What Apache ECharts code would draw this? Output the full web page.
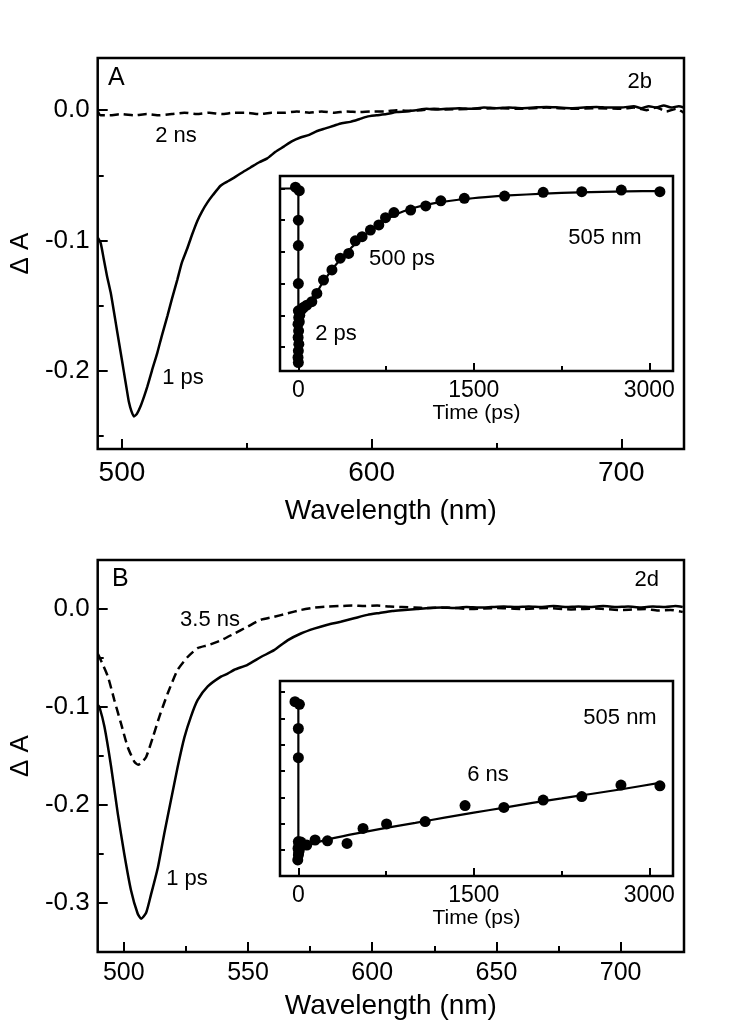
<!DOCTYPE html>
<html>
<head>
<meta charset="utf-8">
<script src="https://cdn.jsdelivr.net/npm/echarts@6/dist/echarts.min.js"></script>
<style>
html,body{margin:0;padding:0;background:#fff;}
#chart{width:742px;height:1033px;}
</style>
</head>
<body>
<div id="chart"></div>
<script>
// ---------- DATA ----------
// Panel A (2b) : transient spectra, wavelength (nm) vs dA
const specA_1ps = [[490.4,-0.098],[491.5,-0.102],[492.8,-0.115],[494,-0.127],[495.5,-0.140],[497,-0.157],[498.2,-0.171],[499.5,-0.186],[500.8,-0.201],[502,-0.215],[502.8,-0.224],[503.8,-0.231],[504.8,-0.235],[506,-0.233],[507.5,-0.227],[509,-0.219],[510.2,-0.212],[512,-0.200],[514.2,-0.186],[516,-0.173],[518.2,-0.158],[520,-0.145],[522.2,-0.130],[524,-0.117],[526.2,-0.106],[528,-0.096],[530.2,-0.085],[532,-0.078],[534.2,-0.071],[536.5,-0.065],[539.5,-0.058],[542,-0.055],[544.8,-0.052],[548,-0.048],[551.5,-0.044],[555,-0.040],[558.2,-0.037],[561.5,-0.032],[564.8,-0.028],[568,-0.024],[571.5,-0.021],[575,-0.019],[578.2,-0.016],[581.5,-0.014],[584.8,-0.012],[588,-0.010],[591.5,-0.009],[595,-0.007],[598.2,-0.005],[602,-0.004],[606,-0.003],[610,-0.0015],[614,-0.001],[618,0.000],[622,0.001],[626,0.0005],[630,0.001],[635,0.0015],[640,0.001],[645,0.002],[650,0.0015],[655,0.002],[660,0.0015],[665,0.002],[670,0.0025],[675,0.002],[680,0.0015],[685,0.002],[690,0.0025],[695,0.002],[700,0.002],[705,0.003],[708,0.0015],[711,0.003],[714,0.002],[717,0.0035],[720,0.002],[723,0.003],[725,0.002]];
const specA_2ns = [[490.4,-0.001],[491.5,-0.004],[495,-0.004],[500,-0.003],[505,-0.004],[510,-0.003],[515,-0.004],[520,-0.003],[525,-0.002],[530,-0.003],[535,-0.002],[540,-0.003],[545,-0.002],[550,-0.002],[555,-0.003],[560,-0.002],[565,-0.002],[570,-0.001],[575,-0.002],[580,-0.001],[585,-0.002],[590,-0.001],[595,-0.0015],[600,-0.001],[605,-0.001],[610,0.000],[615,-0.0005],[620,0.000],[625,0.001],[630,0.0005],[640,0.001],[650,0.0015],[660,0.001],[670,0.002],[680,0.001],[690,0.0015],[700,0.001],[705,0.002],[710,0.000],[714,0.002],[718,-0.001],[722,0.001],[725,-0.002]];
// Panel A inset : kinetics at 505 nm (time in ps, signal in tick units)
const kinA_pts = [[-25,5.04],[8,4.93],[0,4.0],[0,3.2],[0,2.0],[0,1.14],[3,0.93],[-3,0.72],[2,0.51],[-2,0.30],[4,0.09],[0,-0.12],[-3,-0.33],[0,-0.49],[8,0.8],[12,1.0],[20,1.15],[35,1.22],[45,1.25],[72,1.32],[115,1.43],[158,1.69],[215,2.11],[287,2.43],[358,2.80],[430,2.95],[487,3.35],[545,3.48],[616,3.69],[688,3.85],[745,4.08],[817,4.24],[960,4.32],[1089,4.45],[1218,4.61],[1419,4.69],[1763,4.76],[2093,4.88],[2423,4.90],[2761,4.95],[3091,4.90]];
const kinA_fit = [[-157,5.0],[0,5.0],[0,-0.45],[5,1.0],[40,1.2],[80,1.38],[120,1.55],[160,1.75],[200,1.98],[250,2.25],[300,2.5],[350,2.72],[400,2.92],[450,3.12],[500,3.3],[550,3.47],[600,3.62],[650,3.76],[700,3.9],[750,4.02],[800,4.12],[900,4.28],[1000,4.4],[1100,4.49],[1200,4.56],[1400,4.66],[1600,4.73],[1800,4.78],[2100,4.84],[2400,4.88],[2800,4.91],[3100,4.92]];

// Panel B (2d)
const specB_1ps = [[489.6,-0.098],[490.2,-0.100],[492.2,-0.120],[494.9,-0.161],[497.6,-0.209],[500.2,-0.250],[502.9,-0.287],[505.6,-0.311],[507,-0.316],[509,-0.310],[511,-0.291],[513.7,-0.264],[516.3,-0.229],[519,-0.195],[521.7,-0.161],[524.4,-0.131],[527,-0.110],[529.7,-0.093],[533.8,-0.079],[539.1,-0.069],[541.8,-0.066],[544.5,-0.062],[549.8,-0.057],[555.2,-0.049],[560.5,-0.042],[565.9,-0.032],[571.3,-0.025],[576.6,-0.020],[582,-0.016],[587.3,-0.013],[592.7,-0.0095],[598.1,-0.006],[603,-0.004],[608,-0.002],[613,-0.001],[618,0.000],[623,0.001],[628,0.0015],[633,0.001],[638,0.002],[643,0.0015],[648,0.002],[653,0.0025],[658,0.002],[663,0.0025],[668,0.002],[673,0.003],[678,0.002],[683,0.0025],[688,0.002],[693,0.003],[698,0.002],[703,0.0025],[708,0.0015],[713,0.0025],[718,0.002],[722,0.003],[725,0.002]];
const specB_35ns = [[489.6,-0.046],[490.2,-0.049],[493.6,-0.069],[496.2,-0.093],[498.9,-0.117],[501.6,-0.141],[504.3,-0.156],[505.8,-0.159],[507,-0.157],[509,-0.151],[511.7,-0.131],[514.3,-0.110],[517.7,-0.086],[521.7,-0.062],[525.7,-0.049],[529.7,-0.040],[533.8,-0.037],[539.1,-0.032],[544.5,-0.025],[549.8,-0.018],[555.2,-0.011],[560.5,-0.008],[565.9,-0.0044],[571.3,-0.001],[576.6,0.0013],[582,0.0024],[587,0.003],[592,0.0035],[597,0.003],[602,0.0035],[607,0.0025],[612,0.002],[617,0.0015],[622,0.001],[630,0.0015],[640,0.000],[650,0.001],[660,0.000],[670,0.001],[680,-0.0005],[690,0.0005],[700,-0.001],[710,0.000],[715,-0.0015],[720,-0.001],[725,-0.003]];
const kinB_pts = [[-29,5.64],[9,5.54],[0,4.62],[0,3.51],[0,0.32],[5,0.19],[-3,0.06],[8,0.0],[0,-0.19],[-5,-0.38],[3,-0.1],[10,0.25],[22,0.30],[72,0.19],[143,0.38],[249,0.35],[416,0.25],[553,0.82],[754,0.99],[1084,1.08],[1425,1.69],[1757,1.62],[2093,1.90],[2423,2.03],[2758,2.47],[3091,2.44]];
const kinB_fit = [[0,5.62],[0,-0.3],[5,0.05],[50,0.14],[150,0.28],[300,0.45],[500,0.63],[750,0.84],[1000,1.03],[1250,1.23],[1500,1.42],[1750,1.6],[2000,1.79],[2250,1.96],[2500,2.13],[2750,2.3],[3100,2.56]];

// Tick values
const ticksA_x = [500,600,700], minorA_x = [550,650];
const ticksA_y = [-0.2,-0.1,0], minorA_y = [-0.25,-0.15,-0.05];
const ticksB_x = [500,550,600,650,700], minorB_x = [525,575,625,675];
const ticksB_y = [-0.3,-0.2,-0.1,0], minorB_y = [-0.25,-0.15,-0.05];
const ticksT = [0,1500,3000], minorT = [750,2250];
const ticksInsetA_y = [0,1,2,3,4,5];
const ticksInsetB_y = [0,1,2,3,4,5,6];

// ---------- CHART ----------
const FONT = '"Liberation Sans", Arial, Helvetica, sans-serif';
const BLK = '#000';
const chart = echarts.init(document.getElementById('chart'), null, {renderer:'canvas'});

function gridDef(l,t,w,h){return {left:l,top:t,width:w,height:h,show:true,borderColor:BLK,borderWidth:2.5,backgroundColor:'rgba(0,0,0,0)',containLabel:false};}
function xMain(g,min,max,ticks,len,fs,name,nameFs,gap,margin){
  return {type:'value',gridIndex:g,min:min,max:max,position:'bottom',
    axisLine:{show:false,onZero:false},splitLine:{show:false},
    axisTick:{show:true,inside:true,length:len,customValues:ticks,lineStyle:{color:BLK,width:2}},
    axisLabel:{show:fs>0,customValues:ticks,fontSize:fs,fontFamily:FONT,color:BLK,margin:margin,formatter:function(v){return String(v);}},
    name:name,nameLocation:'middle',nameGap:gap,nameTextStyle:{fontSize:nameFs,fontFamily:FONT,color:BLK}};
}
function xMinor(g,min,max,ticks,len){
  return {type:'value',gridIndex:g,min:min,max:max,position:'bottom',
    axisLine:{show:false,onZero:false},splitLine:{show:false},
    axisTick:{show:true,inside:true,length:len,customValues:ticks,lineStyle:{color:BLK,width:2}},
    axisLabel:{show:false}};
}
function yMain(g,min,max,ticks,len,fs,name,gap){
  return {type:'value',gridIndex:g,min:min,max:max,position:'left',
    axisLine:{show:false,onZero:false},splitLine:{show:false},
    axisTick:{show:true,inside:true,length:len,customValues:ticks,lineStyle:{color:BLK,width:2}},
    axisLabel:{show:fs>0,customValues:ticks,fontSize:fs,fontFamily:FONT,color:BLK,margin:8,formatter:function(v){return v.toFixed(1);}},
    name:name,nameLocation:'middle',nameGap:gap,nameRotate:90,nameTextStyle:{fontSize:26,fontFamily:FONT,color:BLK}};
}

const lineS = (xi,yi,data,dashed,w)=>({type:'line',xAxisIndex:xi,yAxisIndex:yi,data:data,showSymbol:false,symbol:'none',smooth:0.2,clip:true,
  lineStyle:{color:BLK,width:w,type:dashed?[9,5]:'solid'},z:3});
const dotS = (xi,yi,data)=>({type:'scatter',xAxisIndex:xi,yAxisIndex:yi,data:data,symbol:'circle',symbolSize:11,itemStyle:{color:BLK,opacity:1},clip:true,z:4});

function txt(x,y,s,align,fs){return {type:'text',x:x,y:y,style:{text:s,fontSize:fs||22,fontFamily:FONT,fill:BLK,textAlign:align||'left',textVerticalAlign:'middle'},z:10};}

const option = {
  animation:false,
  backgroundColor:'#fff',
  grid:[gridDef(96,58,588,391),gridDef(280,176,393,195),gridDef(96,560,588,392),gridDef(280,681,393,195)],
  xAxis:[
    xMain(0,490.3,725.1,ticksA_x,10,28,'Wavelength (nm)',28,48,10),
    xMinor(0,490.3,725.1,minorA_x,6),
    xMain(1,-157,3203,ticksT,8,23,'Time (ps)',21,31,8),
    xMinor(1,-157,3203,minorT,5),
    xMain(2,489.5,725.5,ticksB_x,10,25,'Wavelength (nm)',28,40,9),
    xMinor(2,489.5,725.5,minorB_x,6),
    xMain(3,-157,3203,ticksT,8,23,'Time (ps)',21,31,8),
    xMinor(3,-157,3203,minorT,5)
  ],
  yAxis:[
    yMain(0,-0.26,0.04,ticksA_y,10,26,'\u0394 A',62),
    yMain(0,-0.26,0.04,minorA_y,6,0,'',0),
    yMain(1,-0.757,5.394,ticksInsetA_y,5,0,'',0),
    yMain(2,-0.35,0.05,ticksB_y,10,26,'\u0394 A',62),
    yMain(2,-0.35,0.05,minorB_y,6,0,'',0),
    yMain(3,-0.989,6.426,ticksInsetB_y,5,0,'',0)
  ],
  series:[
    lineS(0,0,specA_1ps,false,2.5),
    lineS(0,0,specA_2ns,true,2.5),
    lineS(2,2,kinA_fit,false,2.2),
    dotS(2,2,kinA_pts),
    lineS(4,3,specB_1ps,false,2.5),
    lineS(4,3,specB_35ns,true,2.5),
    lineS(6,5,kinB_fit,false,2.2),
    dotS(6,5,kinB_pts)
  ],
  graphic:[
    txt(108,78,'A','left',25),
    txt(652,82,'2b','right'),
    txt(176,136,'2 ns','center'),
    txt(183,378,'1 ps','center'),
    txt(605,238,'505 nm','center'),
    txt(402,259,'500 ps','center'),
    txt(336,334,'2 ps','center'),
    txt(112,579,'B','left',25),
    txt(659,580,'2d','right'),
    txt(210,620,'3.5 ns','center'),
    txt(187,879,'1 ps','center'),
    txt(620,718,'505 nm','center'),
    txt(488,775,'6 ns','center')
  ]
};
chart.setOption(option);
</script>
</body>
</html>
